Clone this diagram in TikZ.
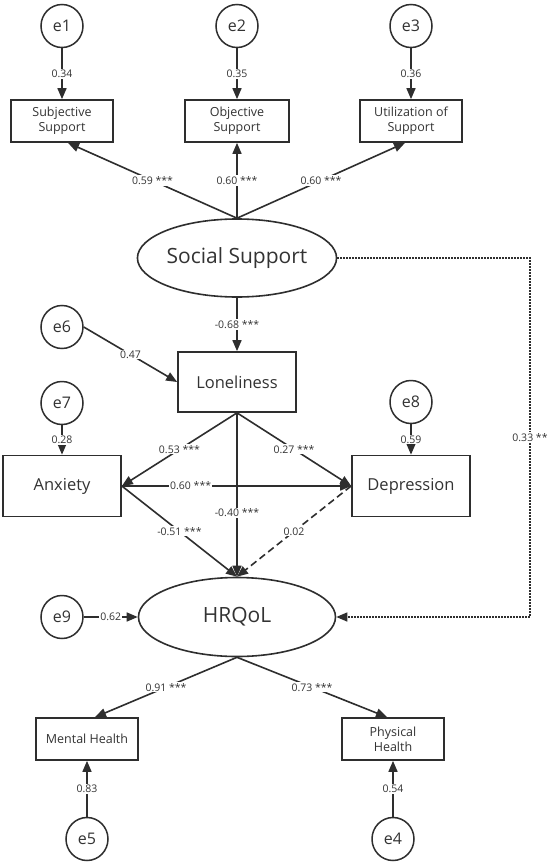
\documentclass[tikz,border=0pt]{standalone}
\usepackage{fontspec}
\setmainfont{Open Sans}
\usetikzlibrary{shapes.geometric,arrows.meta}
\definecolor{ln}{HTML}{2E2E2E}
\definecolor{txt}{HTML}{333333}
\begin{document}
\begin{tikzpicture}[x=1pt,y=-1pt,
  every node/.style={text=txt},
  err/.style={draw=ln,line width=1.5pt,ellipse,minimum width=42pt,minimum height=43pt,inner sep=0pt,font=\fontsize{16}{19}\selectfont},
  obsS/.style={draw=ln,line width=1.7pt,rectangle,minimum width=102pt,minimum height=42pt,inner sep=0pt,align=center,font=\fontsize{12.5}{15}\selectfont},
  obsL/.style={draw=ln,line width=1.7pt,rectangle,minimum width=118pt,minimum height=61pt,inner sep=0pt,font=\fontsize{16.5}{20}\selectfont},
  lat/.style={draw=ln,line width=1.6pt,ellipse,minimum width=198pt,minimum height=78pt,inner sep=0pt,font=\fontsize{21}{25}\selectfont},
  conn/.style={draw=ln,line width=1.6pt,-{Triangle[length=11pt,width=9pt]}},
  lab/.style={fill=white,inner sep=1pt,font=\fontsize{10.5}{12}\selectfont},
  dashline/.style={dash pattern=on 7pt off 4pt},
  dotline/.style={dash pattern=on 1.4pt off 1.6pt,line width=1.4pt},
]
\useasboundingbox (0,0) rectangle (551,867);
\fill[white] (0,0) rectangle (551,867);

\node[err] (e1) at (62,26) {e1};
\node[err] (e2) at (237,26) {e2};
\node[err] (e3) at (411,26) {e3};
\node[obsS] (subj) at (62,121) {Subjective\\Support};
\node[obsS,minimum width=104pt] (obj) at (237,121) {Objective\\Support};
\node[obsS] (util) at (411,121) {Utilization of\\Support};
\node[lat] (ss) at (237,258) {Social Support};
\node[err] (e6) at (62,327) {e6};
\node[obsL,minimum height=60pt] (lone) at (237,382) {Loneliness};
\node[err] (e7) at (62,403) {e7};
\node[err] (e8) at (411,402) {e8};
\node[obsL] (anx) at (62,486) {Anxiety};
\node[obsL] (dep) at (411,486) {Depression};
\node[lat,minimum width=197pt,minimum height=79pt] (hr) at (237,617) {HRQoL};
\node[err] (e9) at (62,617) {e9};
\node[obsS] (mh) at (87,739) {Mental Health};
\node[obsS] (ph) at (393,739) {Physical\\Health};
\node[err] (e5) at (87,839) {e5};
\node[err] (e4) at (393,839) {e4};
\coordinate (c1) at (530,258);
\coordinate (c2) at (530,617);

\draw[conn] (e1) -- (subj) node[lab,midway]{0.34};
\draw[conn] (e2) -- (obj) node[lab,midway]{0.35};
\draw[conn] (e3) -- (util) node[lab,midway]{0.36};
\draw[conn] (ss.north) -- ([xshift=6pt]subj.south) node[lab,midway]{0.59 ***};
\draw[conn] (ss.north) -- (obj.south) node[lab,midway]{0.60 ***};
\draw[conn] (ss.north) -- ([xshift=-6pt]util.south) node[lab,midway]{0.60 ***};
\draw[conn] (ss) -- (lone) node[lab,midway]{-0.68 ***};
\draw[conn] (e6.east) -- (lone.west) node[lab,midway]{0.47};
\draw[conn] (e7) -- (anx) node[lab,midway]{0.28};
\draw[conn] (e8) -- (dep) node[lab,midway]{0.59};
\draw[conn] (lone.south) -- (anx.east) node[lab,midway]{0.53 ***};
\draw[conn] (lone.south) -- (dep.west) node[lab,midway]{0.27 ***};
\draw[conn] (anx.east) -- (dep.west) node[lab,pos=0.3]{0.60 ***};
\draw[conn] (lone.south) -- (hr.north) node[lab,pos=0.61]{-0.40 ***};
\draw[conn] (anx.east) -- (hr.north) node[lab,midway]{-0.51 ***};
\draw[conn,dashline] (dep.west) -- (hr.north) node[lab,midway]{0.02};
\draw[conn] (e9) -- (hr) node[lab,midway]{0.62};
\draw[conn,dotline] (ss.east) -- (c1) -- (c2) node[lab,midway]{0.33 **} -- (hr.east);
\draw[conn] (hr.south) -- ([xshift=8pt]mh.north) node[lab,midway]{0.91 ***};
\draw[conn] (hr.south) -- ([xshift=-6pt]ph.north) node[lab,midway]{0.73 ***};
\draw[conn] (e5) -- (mh) node[lab,midway]{0.83};
\draw[conn] (e4) -- (ph) node[lab,midway]{0.54};
\end{tikzpicture}
\end{document}
